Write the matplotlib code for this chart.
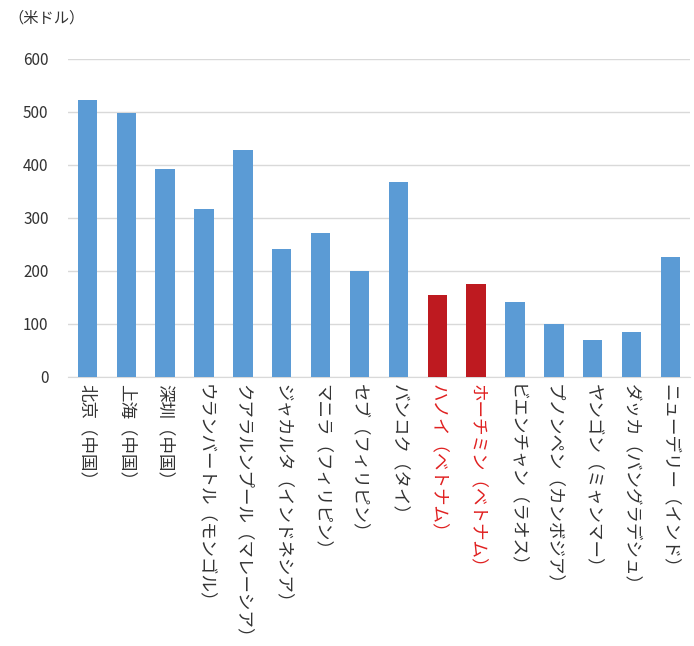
import matplotlib
matplotlib.use('Agg')
import matplotlib.pyplot as plt

plt.rcParams['font.family'] = ['Noto Sans CJK JP', 'DejaVu Sans']

cities = ['北京（中国）', '上海（中国）', '深圳（中国）', 'ウランバートル（モンゴル）',
          'クアラルンプール（マレーシア）', 'ジャカルタ（インドネシア）', 'マニラ（フィリピン）',
          'セブ（フィリピン）', 'バンコク（タイ）', 'ハノイ（ベトナム）', 'ホーチミン（ベトナム）',
          'ビエンチャン（ラオス）', 'プノンペン（カンボジア）', 'ヤンゴン（ミャンマー）',
          'ダッカ（バングラデシュ）', 'ニューデリー（インド）']
wages = [522, 498, 392, 316, 427, 240, 271, 199, 367, 155, 175, 140, 99, 69, 84, 225]
highlight = ['ハノイ（ベトナム）', 'ホーチミン（ベトナム）']

blue = '#5B9BD5'
red = '#BE1A20'
colors = [red if c in highlight else blue for c in cities]

fig = plt.figure(figsize=(6.94, 6.46), dpi=100)
ax = fig.add_axes([0.098, 0.417, 0.896, 0.492])

x = range(len(cities))
ax.bar(x, wages, width=0.5, color=colors, zorder=3)

ax.set_xlim(-0.5, len(cities) - 0.5)
ax.set_ylim(0, 600)
ax.set_yticks(range(0, 601, 100))
ax.yaxis.grid(True, color='#D9D9D9', linewidth=1, zorder=0)
ax.tick_params(axis='y', length=0, pad=14, labelsize=11, labelcolor='#333333')
ax.tick_params(axis='x', length=0, pad=5)

ax.set_xticks(list(x))
ax.set_xticklabels(cities, rotation=-90, ha='center', va='top', fontsize=12.6)
for lbl in ax.get_xticklabels():
    lbl.set_color('#E02020' if lbl.get_text() in highlight else '#333333')

for s in ['top', 'right', 'left']:
    ax.spines[s].set_visible(False)
ax.spines['bottom'].set_color('#D9D9D9')

fig.text(0.012, 0.972, '（米ドル）', fontsize=11, color='#333333', ha='left', va='center')

fig.savefig('out.png', dpi=100)
